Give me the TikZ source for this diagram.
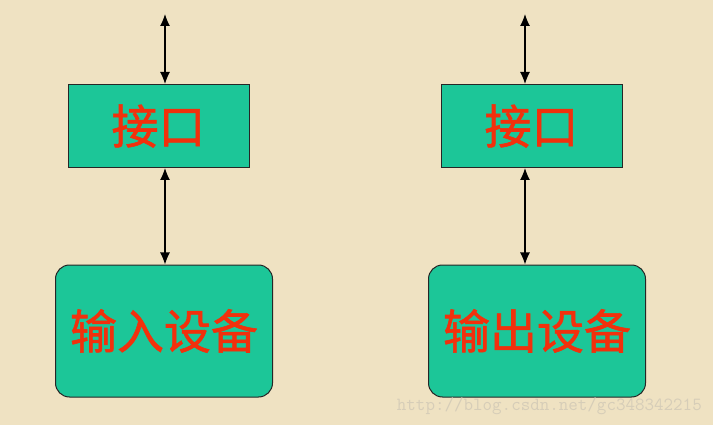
\documentclass[tikz,border=0pt]{standalone}
\usepackage{fontspec}
\newfontfamily\cjk[FakeBold=1.2]{Noto Sans CJK SC}
\usetikzlibrary{arrows.meta}
\definecolor{bg}{HTML}{EFE2C2}
\definecolor{boxfill}{HTML}{1CC698}
\definecolor{txtred}{HTML}{F2300C}
\definecolor{wm}{HTML}{D6CDB8}
\begin{document}
\begin{tikzpicture}[x=1pt,y=-1pt,
  iface/.style={draw=black!85,line width=1pt,fill=boxfill,rectangle,minimum width=181pt,minimum height=83pt,inner sep=0pt},
  dev/.style={draw=black!85,line width=1pt,fill=boxfill,rectangle,rounded corners=14pt,minimum width=217pt,minimum height=132pt,inner sep=0pt},
  lbl/.style={font=\cjk\fontsize{47}{50}\selectfont,text=txtred},
  conn/.style={line width=1.2pt,{Latex[length=12pt,width=10pt]}-{Latex[length=12pt,width=10pt]}}]
\fill[bg] (0,0) rectangle (713,425);
\useasboundingbox (0,0) rectangle (713,425);
% left column
\coordinate (ltop) at (165,14);
\node[iface] (lif) at (158.5,126) {};
\node[lbl] at (lif.center) {接口};
\node[dev] (ldev) at (164,331) {};
\node[lbl] at (ldev.center) {输入设备};
\draw[conn] (ltop) -- (ltop |- lif.north);
\draw[conn] (ltop |- lif.south) -- (ltop |- ldev.north);
% right column
\coordinate (rtop) at (525,14);
\node[iface] (rif) at (531.5,126) {};
\node[lbl] at (rif.center) {接口};
\node[dev] (rdev) at (537,331) {};
\node[lbl] at (rdev.center) {输出设备};
\draw[conn] (rtop) -- (rtop |- rif.north);
\draw[conn] (rtop |- rif.south) -- (rtop |- rdev.north);
% watermark
\node[anchor=base east,font=\ttfamily\fontsize{18.5}{18.5}\selectfont,text=wm,inner sep=0pt] (wmk) at (702,410) {http://blog.csdn.net/gc348342215};
\end{tikzpicture}
\end{document}
